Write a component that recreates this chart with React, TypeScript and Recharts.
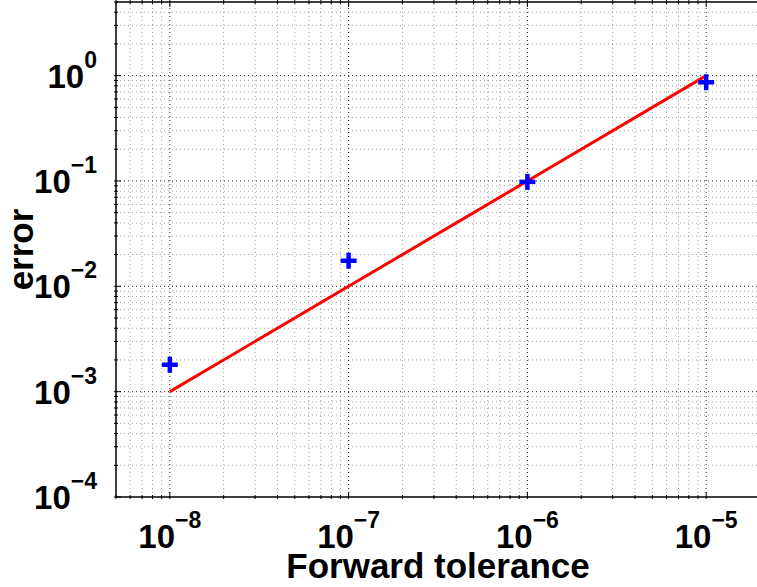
import React from 'react';
import { ComposedChart, Line, XAxis, YAxis, ReferenceLine, Label } from 'recharts';

// ---- data ----
const tolerances = [1e-8, 1e-7, 1e-6, 1e-5];
const measuredError = [1.8e-3, 1.75e-2, 9.8e-2, 0.865];
const referenceLine = [1e-3, 1e-2, 1e-1, 1];

// ---- ticks ----
const xTicks = [
  5e-9, 6e-9, 7e-9, 8e-9, 9e-9,
  1e-8, 2e-8, 3e-8, 4e-8, 5e-8, 6e-8, 7e-8, 8e-8, 9e-8,
  1e-7, 2e-7, 3e-7, 4e-7, 5e-7, 6e-7, 7e-7, 8e-7, 9e-7,
  1e-6, 2e-6, 3e-6, 4e-6, 5e-6, 6e-6, 7e-6, 8e-6, 9e-6,
  1e-5, 2e-5,
];
const yTicks = [
  1e-4, 2e-4, 3e-4, 4e-4, 5e-4, 6e-4, 7e-4, 8e-4, 9e-4,
  1e-3, 2e-3, 3e-3, 4e-3, 5e-3, 6e-3, 7e-3, 8e-3, 9e-3,
  1e-2, 2e-2, 3e-2, 4e-2, 5e-2, 6e-2, 7e-2, 8e-2, 9e-2,
  1e-1, 2e-1, 3e-1, 4e-1, 5e-1, 6e-1, 7e-1, 8e-1, 9e-1,
  1, 2, 3, 4, 5,
];
const xDomain = [5e-9, 2e-5];
const yDomain = [1e-4, 5];
const xLabel = 'Forward tolerance';
const yLabel = 'error';

const data = tolerances.map((t, i) => ({ tol: t, err: measuredError[i], fit: referenceLine[i] }));

const FONT = '"Liberation Sans", Arial, Helvetica, sans-serif';
const TICK_FS = 33;
const SUP_FS = 23;
const LABEL_FS = 35;

const exponentOf = (v: number) => Math.round(Math.log10(v));
const isMajor = (v: number) => Math.abs(Math.log10(v) - Math.round(Math.log10(v))) < 1e-6;
const supText = (e: number) => (e < 0 ? '\u2212' + String(-e) : String(e));

const BottomTick = (props: any) => {
  const { x, y, payload } = props;
  const v = payload.value;
  const major = isMajor(v);
  const len = major ? 7 : 4;
  return (
    <g>
      <line x1={x} y1={y} x2={x} y2={y - len} stroke="#000" strokeWidth={1} />
      {major && (
        <text x={x} y={y + 49} textAnchor="middle" fontFamily={FONT} fontWeight="bold" fontSize={TICK_FS} fill="#000">
          <tspan>10</tspan>
          <tspan dy={-20} fontSize={SUP_FS}>{supText(exponentOf(v))}</tspan>
        </text>
      )}
    </g>
  );
};

const TopTick = (props: any) => {
  const { x, y, payload } = props;
  const major = isMajor(payload.value);
  const len = major ? 7 : 4;
  return <line x1={x} y1={y} x2={x} y2={y + len} stroke="#000" strokeWidth={1} />;
};

const LeftTick = (props: any) => {
  const { x, y, payload } = props;
  const v = payload.value;
  const major = isMajor(v);
  const len = major ? 7 : 4;
  return (
    <g>
      <line x1={x} y1={y} x2={x + len} y2={y} stroke="#000" strokeWidth={1} />
      {major && (
        <text x={x - 17} y={y + 12} textAnchor="end" fontFamily={FONT} fontWeight="bold" fontSize={TICK_FS} fill="#000">
          <tspan>10</tspan>
          <tspan dy={-20} fontSize={SUP_FS}>{supText(exponentOf(v))}</tspan>
        </text>
      )}
    </g>
  );
};

const PlusDot = (props: any) => {
  const { cx, cy, index } = props;
  if (cx == null || cy == null) return <g key={index} />;
  const h = 8;
  return (
    <g key={index}>
      <line x1={cx - h} y1={cy} x2={cx + h} y2={cy} stroke="#0000ff" strokeWidth={4.5} />
      <line x1={cx} y1={cy - h} x2={cx} y2={cy + h} stroke="#0000ff" strokeWidth={4.5} />
    </g>
  );
};

const XLabelContent = (props: any) => {
  const vb = props.viewBox || {};
  return (
    <text x={vb.x + vb.width / 2} y={vb.y + 81} textAnchor="middle" fontFamily={FONT} fontWeight="bold" fontSize={LABEL_FS} fill="#000">
      {xLabel}
    </text>
  );
};

const YLabelContent = (props: any) => {
  const vb = props.viewBox || {};
  const cx = 33;
  const cy = vb.y + vb.height / 2;
  return (
    <text x={cx} y={cy} transform={`rotate(-90, ${cx}, ${cy})`} textAnchor="middle" fontFamily={FONT} fontWeight="bold" fontSize={LABEL_FS} fill="#000">
      {yLabel}
    </text>
  );
};

export default function App() {
  const gridX = xTicks.filter((v) => v > xDomain[0] && v < xDomain[1]);
  const gridY = yTicks.filter((v) => v > yDomain[0] && v < yDomain[1]);
  return (
    <div style={{ position: 'absolute', left: 0, top: 0, width: 757, height: 587, overflow: 'hidden', background: '#fff' }}>
      <ComposedChart width={760} height={587} data={data} margin={{ top: 0, right: 0, bottom: 0, left: 0 }}>
        <XAxis
          dataKey="tol"
          type="number"
          scale="log"
          domain={xDomain}
          allowDataOverflow
          ticks={xTicks}
          interval={0}
          tickSize={0}
          height={90}
          axisLine={{ stroke: '#000', strokeWidth: 1.5 }}
          tick={<BottomTick />}
        >
          <Label content={<XLabelContent />} />
        </XAxis>
        <XAxis
          xAxisId="top"
          orientation="top"
          dataKey="tol"
          type="number"
          scale="log"
          domain={xDomain}
          allowDataOverflow
          ticks={xTicks}
          interval={0}
          tickSize={0}
          height={2}
          axisLine={{ stroke: '#000', strokeWidth: 1.5 }}
          tick={<TopTick />}
        />
        <YAxis
          type="number"
          scale="log"
          domain={yDomain}
          allowDataOverflow
          ticks={yTicks}
          interval={0}
          tickSize={0}
          width={116}
          axisLine={{ stroke: '#000', strokeWidth: 1.5 }}
          tick={<LeftTick />}
        >
          <Label content={<YLabelContent />} />
        </YAxis>
        {gridX.map((v) => (
          <ReferenceLine
            key={'gx' + v}
            x={v}
            stroke={isMajor(v) ? '#000' : '#555'}
            strokeOpacity={isMajor(v) ? 0.85 : 0.55}
            strokeWidth={1}
            strokeDasharray="1 3"
          />
        ))}
        {gridY.map((v) => (
          <ReferenceLine
            key={'gy' + v}
            y={v}
            stroke={isMajor(v) ? '#000' : '#555'}
            strokeOpacity={isMajor(v) ? 0.85 : 0.55}
            strokeWidth={1}
            strokeDasharray="1 3"
          />
        ))}
        <Line dataKey="fit" stroke="#ff0000" strokeWidth={3} dot={false} isAnimationActive={false} />
        <Line dataKey="err" stroke="none" dot={<PlusDot />} activeDot={false} isAnimationActive={false} />
      </ComposedChart>
    </div>
  );
}
